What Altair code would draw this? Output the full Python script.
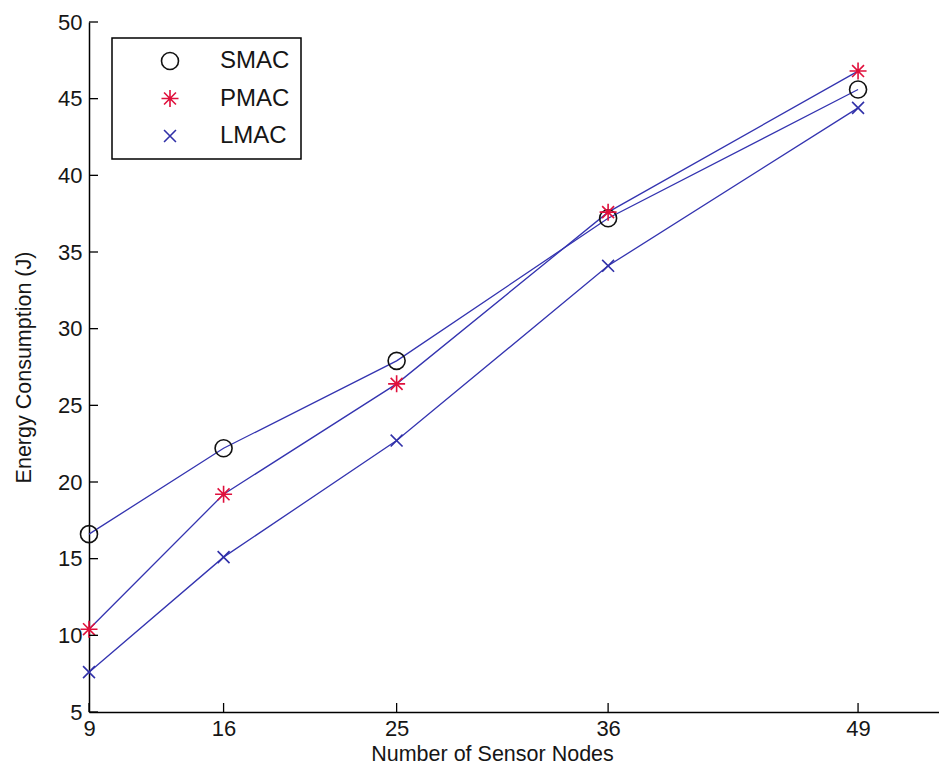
import altair as alt
import pandas as pd

nodes = [9, 16, 25, 36, 49]
smac = [16.6, 22.2, 27.9, 37.2, 45.6]
pmac = [10.4, 19.2, 26.4, 37.6, 46.8]
lmac = [7.6, 15.1, 22.7, 34.1, 44.4]
series_names = ["SMAC", "PMAC", "LMAC"]
x_ticks = [9, 16, 25, 36, 49]
y_ticks = [5, 10, 15, 20, 25, 30, 35, 40, 45, 50]

rows = []
for name, vals in zip(series_names, [smac, pmac, lmac]):
    for n, v in zip(nodes, vals):
        rows.append({"nodes": n, "energy": v, "series": name})
df = pd.DataFrame(rows)

W, H = 850, 690
FONT = "Liberation Sans"
LINE = "#3434b0"
TXT = "#161616"

xscale = alt.Scale(domain=[9, 53.21], nice=False, zero=False)
yscale = alt.Scale(domain=[5, 50], nice=False, zero=False)

x_axis = alt.Axis(values=x_ticks, grid=False, ticks=False, domainColor="black",
                  domainWidth=1.5, labelFontSize=22, labelFont=FONT, labelColor=TXT,
                  labelPadding=6, title="Number of Sensor Nodes", titleFont=FONT,
                  titleFontSize=21.5, titleFontWeight="normal", titleColor=TXT,
                  titleX=403, titleY=48, titleBaseline="alphabetic", labelFlush=False)
y_axis = alt.Axis(values=y_ticks, grid=False, ticks=False, domainColor="black",
                  domainWidth=1.5, labelFontSize=22, labelFont=FONT, labelColor=TXT,
                  labelPadding=7, title="Energy Consumption (J)", titleFont=FONT,
                  titleFontSize=21.5, titleFontWeight="normal", titleColor=TXT,
                  titleX=-54, titleY=345, titleAngle=-90, titleAlign="center",
                  titleBaseline="bottom", labelFlush=False)

base = alt.Chart(df)

lines = base.mark_line(strokeWidth=1.3, color=LINE).encode(
    x=alt.X("nodes:Q", scale=xscale, axis=x_axis),
    y=alt.Y("energy:Q", scale=yscale, axis=y_axis),
    detail="series:N",
)

shape_paths = [
    "circle",
    "M0,-1L0,1M-1,0L1,0M-0.7,-0.7L0.7,0.7M-0.7,0.7L0.7,-0.7",
    "M-0.7,-0.7L0.7,0.7M-0.7,0.7L0.7,-0.7",
]
stroke_colors = ["#111111", "#e0103c", "#3030a8"]

points = base.mark_point(filled=False, size=289, strokeWidth=1.6, opacity=1).encode(
    x=alt.X("nodes:Q", scale=xscale),
    y=alt.Y("energy:Q", scale=yscale),
    shape=alt.Shape("series:N", scale=alt.Scale(domain=series_names, range=shape_paths),
                    legend=alt.Legend(title=None)),
    stroke=alt.Stroke("series:N", scale=alt.Scale(domain=series_names, range=stroke_colors),
                      legend=alt.Legend(title=None)),
)

xt = pd.DataFrame({"t": x_ticks})
yt = pd.DataFrame({"t": y_ticks})
xtick_rules = alt.Chart(xt).mark_rule(color="black", strokeWidth=1.3).encode(
    x=alt.X("t:Q", scale=xscale), y=alt.value(H), y2=alt.value(H - 9))
ytick_rules = alt.Chart(yt).mark_rule(color="black", strokeWidth=1.3).encode(
    y=alt.Y("t:Q", scale=yscale), x=alt.value(0), x2=alt.value(9))

chart = alt.layer(lines, points, xtick_rules, ytick_rules).properties(
    width=W, height=H,
    autosize=alt.AutoSizeParams(type="none"),
    padding={"left": 81, "top": 14, "right": 0, "bottom": 56},
).configure_view(stroke=None).configure_legend(
    orient="none", legendX=23, legendY=16, strokeColor="black", strokeWidth=1.5,
    fillColor="white", padding=11, labelFont=FONT, labelFontSize=24, labelColor=TXT,
    symbolSize=289, symbolStrokeWidth=1.6, symbolOffset=35, labelOffset=38,
    rowPadding=13.5, symbolType="circle",
)

chart.save("out.html", embed_options={"renderer": "svg", "actions": False})
